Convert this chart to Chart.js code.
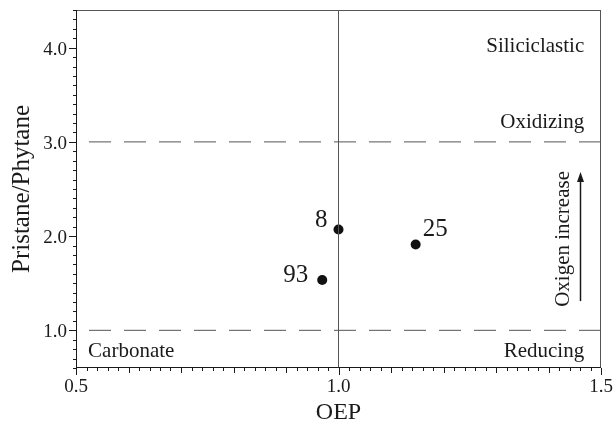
<!DOCTYPE html>
<html>
<head>
<meta charset="utf-8">
<script src="https://cdn.jsdelivr.net/npm/chart.js@4/dist/chart.umd.min.js"></script>
<style>
  html, body { margin: 0; padding: 0; background: #fff; }
  #wrap { width: 614px; height: 424px; }
</style>
</head>
<body>
<div id="wrap"><canvas id="c" width="614" height="424"></canvas></div>
<script>
// Samples: OEP vs Pristane/Phytane
const sampleIds = ['8', '25', '93'];
const oepValues = [1.0, 1.147, 0.969];
const prPhValues = [2.07, 1.91, 1.535];

// Axis ranges and tick labels
const xTicks = [0.5, 1.0, 1.5];
const yTicks = [1.0, 2.0, 3.0, 4.0];
const xRange = [0.5, 1.5];
const yRange = [0.6, 4.4];
const xTitle = 'OEP';
const yTitle = 'Pristane/Phytane';

// Boundary lines
const oxidizingLimit = 3.0;
const reducingLimit = 1.0;
const oepDivide = 1.0;

const serif = '"Liberation Serif", "Times New Roman", serif';
const ink = '#1a1a1a';

// Region labels and arrow, positioned in data units
const regionLabels = [
  { text: 'Siliciclastic', x: 1.468, y: 4.01, align: 'right' },
  { text: 'Oxidizing', x: 1.468, y: 3.21, align: 'right' },
  { text: 'Carbonate', x: 0.523, y: 0.78, align: 'left' },
  { text: 'Reducing', x: 1.468, y: 0.78, align: 'right' }
];
const pointLabelPos = [
  { dx: -11, dy: -9, align: 'right' },
  { dx: 7, dy: -15, align: 'left' },
  { dx: -14, dy: -4, align: 'right' }
];
const arrow = { x: 1.46, from: 1.31, to: 2.68 };
const arrowText = { text: 'Oxigen increase', x: 1.429, y: 1.97 };

const overlay = {
  id: 'overlay',
  afterDraw(chart) {
    const ctx = chart.ctx;
    const xs = chart.scales.x, ys = chart.scales.y;
    const a = chart.chartArea;
    ctx.save();
    // frame
    ctx.strokeStyle = '#555';
    ctx.lineWidth = 1;
    ctx.strokeRect(a.left + 0.5, a.top + 0.5, a.right - a.left - 1, a.bottom - a.top - 1);
    ctx.strokeStyle = ink;
    ctx.beginPath();
    ctx.moveTo(a.left + 0.5, a.top); ctx.lineTo(a.left + 0.5, a.bottom);
    ctx.moveTo(a.left, a.bottom - 0.5); ctx.lineTo(a.right, a.bottom - 0.5);
    ctx.stroke();

    // x tick marks: minor every 0.02, medium every 0.1, major every 0.5
    ctx.beginPath();
    for (let i = 0; i <= 50; i++) {
      const v = xRange[0] + i * 0.02;
      const px = Math.round(xs.getPixelForValue(v)) + 0.5;
      const len = (i % 25 === 0) ? 7 : (i % 5 === 0 ? 5 : 3);
      ctx.moveTo(px, a.bottom);
      ctx.lineTo(px, a.bottom + len);
    }
    // y tick marks: minor every 0.1, major every 1.0
    for (let i = 0; i <= 38; i++) {
      const v = yRange[0] + i * 0.1;
      const py = Math.round(ys.getPixelForValue(v)) + 0.5;
      const major = Math.abs(v - Math.round(v)) < 1e-6;
      ctx.moveTo(a.left, py);
      ctx.lineTo(a.left - (major ? 7 : 3), py);
    }
    ctx.stroke();

    // tick labels
    ctx.fillStyle = ink;
    ctx.font = '19px ' + serif;
    ctx.textAlign = 'center';
    ctx.textBaseline = 'middle';
    xTicks.forEach(v => ctx.fillText(v.toFixed(1), xs.getPixelForValue(v), a.bottom + 19));
    ctx.textAlign = 'right';
    yTicks.forEach(v => ctx.fillText(v.toFixed(1), a.left - 9, ys.getPixelForValue(v) + 2));

    // axis titles
    ctx.font = '24px ' + serif;
    ctx.textAlign = 'center';
    ctx.fillText(xTitle, (a.left + a.right) / 2, a.bottom + 45);
    ctx.save();
    ctx.font = '25px ' + serif;
    ctx.translate(22, (a.top + a.bottom) / 2);
    ctx.rotate(-Math.PI / 2);
    ctx.fillText(yTitle, 0, 0);
    ctx.restore();

    // region labels
    ctx.font = '21px ' + serif;
    regionLabels.forEach(l => {
      ctx.textAlign = l.align;
      ctx.fillText(l.text, xs.getPixelForValue(l.x), ys.getPixelForValue(l.y));
    });

    // point labels
    ctx.font = '25px ' + serif;
    sampleIds.forEach((id, i) => {
      const p = pointLabelPos[i];
      ctx.textAlign = p.align;
      ctx.fillText(id, xs.getPixelForValue(oepValues[i]) + p.dx, ys.getPixelForValue(prPhValues[i]) + p.dy);
    });

    // oxygen arrow
    const ax = Math.round(xs.getPixelForValue(arrow.x)) + 0.5;
    const y0 = ys.getPixelForValue(arrow.from), y1 = ys.getPixelForValue(arrow.to);
    ctx.strokeStyle = ink;
    ctx.lineWidth = 1.5;
    ctx.beginPath();
    ctx.moveTo(ax, y0); ctx.lineTo(ax, y1 + 6);
    ctx.stroke();
    ctx.beginPath();
    ctx.moveTo(ax, y1);
    ctx.lineTo(ax - 3.5, y1 + 10);
    ctx.lineTo(ax + 3.5, y1 + 10);
    ctx.closePath();
    ctx.fill();

    ctx.save();
    ctx.translate(xs.getPixelForValue(arrowText.x), ys.getPixelForValue(arrowText.y));
    ctx.rotate(-Math.PI / 2);
    ctx.font = '21px ' + serif;
    ctx.textAlign = 'center';
    ctx.textBaseline = 'middle';
    ctx.fillText(arrowText.text, 0, 0);
    ctx.restore();
    ctx.restore();
  }
};

const hline = (v) => [{ x: xRange[0], y: v }, { x: xRange[1], y: v }];

new Chart(document.getElementById('c'), {
  type: 'scatter',
  data: {
    datasets: [
      {
        label: 'Oxidizing limit',
        data: hline(oxidizingLimit),
        showLine: true, borderColor: '#555', borderWidth: 1,
        borderDash: [22, 13], borderDashOffset: -13, pointRadius: 0
      },
      {
        label: 'Reducing limit',
        data: hline(reducingLimit),
        showLine: true, borderColor: '#555', borderWidth: 1,
        borderDash: [22, 13], borderDashOffset: -13, pointRadius: 0
      },
      {
        label: 'OEP = 1',
        data: [{ x: oepDivide, y: yRange[0] }, { x: oepDivide, y: yRange[1] }],
        showLine: true, borderColor: '#555', borderWidth: 1, pointRadius: 0
      },
      {
        label: 'Samples',
        data: oepValues.map((x, i) => ({ x, y: prPhValues[i] })),
        pointRadius: 5, pointBackgroundColor: '#111', pointBorderColor: '#111',
        pointBorderWidth: 0
      }
    ]
  },
  options: {
    responsive: false,
    animation: false,
    layout: { padding: { top: 10, right: 13, left: 0, bottom: 0 } },
    plugins: { legend: { display: false }, tooltip: { enabled: false } },
    scales: {
      x: {
        type: 'linear', min: xRange[0], max: xRange[1],
        afterBuildTicks: (s) => { s.ticks = xTicks.map(v => ({ value: v })); },
        afterFit: (s) => { s.height = 56; },
        grid: { display: false, drawTicks: false },
        border: { display: false },
        ticks: { display: false }
      },
      y: {
        type: 'linear', min: yRange[0], max: yRange[1],
        afterBuildTicks: (s) => { s.ticks = yTicks.map(v => ({ value: v })); },
        afterFit: (s) => { s.width = 76; },
        grid: { display: false, drawTicks: false },
        border: { display: false },
        ticks: { display: false }
      }
    }
  },
  plugins: [overlay]
});
</script>
</body>
</html>
